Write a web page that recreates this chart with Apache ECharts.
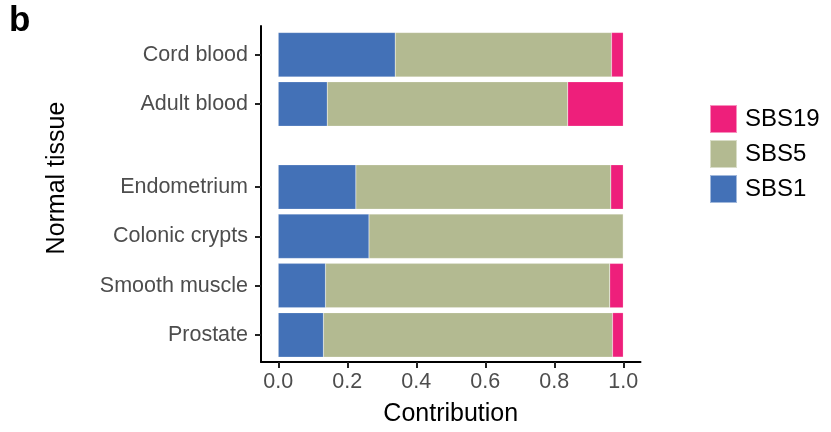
<!DOCTYPE html>
<html><head><meta charset="utf-8">
<script src="https://cdn.jsdelivr.net/npm/echarts@6/dist/echarts.min.js"></script>
<style>html,body{margin:0;padding:0;background:#fff}#c{width:831px;height:432px}</style>
</head><body><div id="c"></div>
<script>
// ---- data ----
const bloodTissues = ['Cord blood', 'Adult blood'];
const solidTissues = ['Endometrium', 'Colonic crypts', 'Smooth muscle', 'Prostate'];
const signatures = ['SBS1', 'SBS5', 'SBS19'];
const bloodSBS1 = [0.339, 0.142];
const bloodSBS5 = [0.627, 0.697];
const bloodSBS19 = [0.034, 0.161];
const solidSBS1 = [0.225, 0.263, 0.137, 0.131];
const solidSBS5 = [0.739, 0.737, 0.824, 0.838];
const solidSBS19 = [0.036, 0.000, 0.039, 0.031];
const xTicks = [0, 0.2, 0.4, 0.6, 0.8, 1.0];
const legendOrder = ['SBS19', 'SBS5', 'SBS1'];

const colors = { SBS1: '#4371B7', SBS5: '#B3BA91', SBS19: '#EE1F7B' };
const FONT = 'Liberation Sans, Arial, Helvetica, sans-serif';

const chart = echarts.init(document.getElementById('c'), null, { renderer: 'canvas' });

const gridLeft = 261, gridRight = 190.5;
const hiddenX = (gi) => ({
  type: 'value', gridIndex: gi, min: -0.05, max: 1.05,
  axisLine: { show: false }, axisTick: { show: false }, axisLabel: { show: false }, splitLine: { show: false }
});
const catY = (gi, cats) => ({
  type: 'category', gridIndex: gi, data: cats, inverse: true,
  axisLine: { show: false, onZero: false },
  axisTick: { show: true, alignWithLabel: true, length: 6, lineStyle: { color: '#222', width: 2 } },
  axisLabel: { color: '#4D4D4D', fontSize: 21.5, fontFamily: FONT, margin: 13 },
  splitLine: { show: false }
});

function mkSeries(gi, vals) {
  return signatures.map((s, i) => ({
    name: s, type: 'bar', stack: 'g' + gi, xAxisIndex: gi, yAxisIndex: gi,
    barWidth: '90%', data: vals[i],
    itemStyle: { color: colors[s], borderColor: 'rgba(255,255,255,0.5)', borderWidth: 0.4 },
    emphasis: { disabled: true }
  }));
}

const option = {
  animation: false,
  backgroundColor: '#fff',
  textStyle: { fontFamily: FONT },
  grid: [
    { left: gridLeft, right: gridRight, top: 26, bottom: 70 },
    { left: gridLeft, right: gridRight, top: 30.05, height: 98.6 },
    { left: gridLeft, right: gridRight, top: 162.35, height: 197.2 }
  ],
  xAxis: [
    {
      type: 'value', gridIndex: 0, min: -0.05, max: 1.05,
      axisLine: { show: true, onZero: false, lineStyle: { color: '#000', width: 2 } },
      axisTick: { show: true, length: 6, customValues: xTicks, lineStyle: { color: '#222', width: 2 } },
      axisLabel: { show: true, customValues: xTicks, color: '#4D4D4D', fontSize: 21.5, fontFamily: FONT, margin: 9,
        formatter: v => Number(v).toFixed(1) },
      splitLine: { show: false },
      name: 'Contribution', nameLocation: 'middle', nameGap: 40,
      nameTextStyle: { color: '#000', fontSize: 25, fontFamily: FONT }
    },
    hiddenX(1), hiddenX(2)
  ],
  yAxis: [
    {
      type: 'value', gridIndex: 0, min: 0, max: 1,
      axisLine: { show: true, onZero: false, lineStyle: { color: '#000', width: 2 } },
      axisTick: { show: false }, axisLabel: { show: false }, splitLine: { show: false }
    },
    catY(1, bloodTissues), catY(2, solidTissues)
  ],
  legend: {
    data: legendOrder, orient: 'vertical', left: 704, top: 99,
    itemWidth: 27, itemHeight: 28, itemGap: 5, icon: 'rect',
    textStyle: { color: '#000', fontSize: 24, lineHeight: 28, fontFamily: FONT, padding: [0, 0, 0, 3] }
  },
  series: [
    ...mkSeries(1, [bloodSBS1, bloodSBS5, bloodSBS19]),
    ...mkSeries(2, [solidSBS1, solidSBS5, solidSBS19])
  ],
  graphic: [
    { type: 'text', left: 9, top: 4, style: { text: 'b', font: 'bold 35px ' + FONT, fill: '#000' } },
    { type: 'text', x: 57, y: 178, rotation: Math.PI / 2,
      style: { text: 'Normal tissue', font: '25px ' + FONT, fill: '#000', align: 'center', verticalAlign: 'middle' } }
  ]
};
chart.setOption(option);
</script></body></html>
